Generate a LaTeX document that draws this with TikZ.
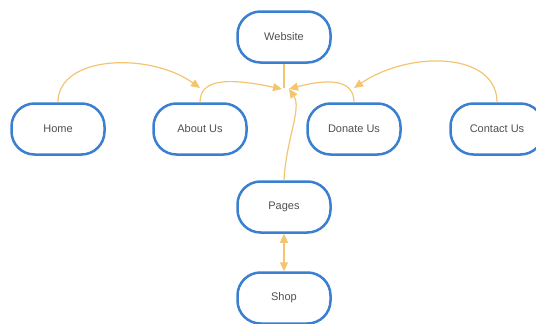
\documentclass[tikz,border=0pt]{standalone}
\usepackage{fontspec}
\setmainfont{Liberation Sans}
\usetikzlibrary{arrows.meta}
\definecolor{boxblue}{HTML}{3A7FD0}
\definecolor{linkor}{HTML}{F3C571}
\definecolor{txtgray}{HTML}{505050}
\begin{document}
\begin{tikzpicture}[x=1pt,y=-1pt,
  pagebox/.style={draw=boxblue,line width=2.5pt,fill=white,rounded corners=23pt,
    minimum width=93pt,minimum height=51pt,inner sep=0pt,
    font=\fontsize{11}{13}\selectfont,text=txtgray},
  link/.style={draw=linkor,line width=1.2pt},
  tip/.style={-{Triangle[length=9pt,width=8pt]}}
]
\useasboundingbox (0,0) rectangle (536,324);
\node[pagebox] (web) at (284,37) {Website};
\node[pagebox] (home) at (58,129) {Home};
\node[pagebox] (about) at (200,129) {About Us};
\node[pagebox] (donate) at (354,129) {Donate Us};
\node[pagebox] (contact) at (497,129) {Contact Us};
\node[pagebox] (pages) at (284,207) {Pages};
\node[pagebox] (shop) at (284,298) {Shop};
\coordinate (m) at (284,88);
\coordinate (ha) at (200,88);
\coordinate (cd) at (354,88);
\coordinate (ml) at (282,89);
\coordinate (mr) at (289,89);
\draw[link] (web.south) -- (m);
\draw[link,tip] (home.north) .. controls (58,55) and (150,52) .. (ha);
\draw[link,tip] (contact.north) .. controls (497,52) and (410,50) .. (cd);
\draw[link,tip] (about.north) .. controls (200,80) and (225,77) .. (ml);
\draw[link,tip] (donate.north) .. controls (354,80) and (330,78) .. (mr);
\draw[link,tip] (pages.north) .. controls (286,140) and (302,108) .. (mr);
\draw[link,{Triangle[length=9pt,width=8pt]}-{Triangle[length=9pt,width=8pt]}] (pages.south) -- (shop.north);
\end{tikzpicture}
\end{document}
